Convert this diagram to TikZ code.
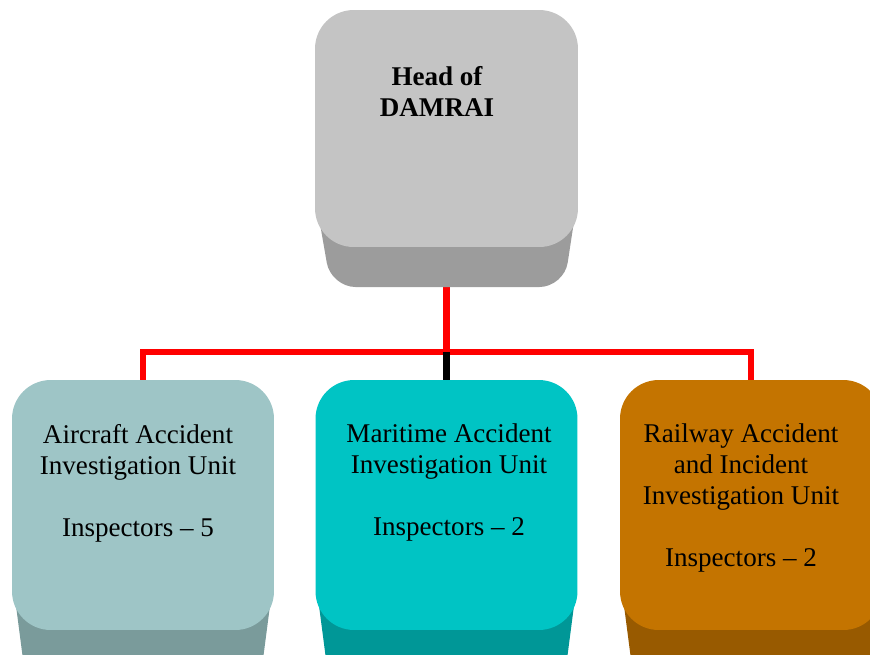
\documentclass[tikz,border=0pt]{standalone}
\usepackage{fontspec}
\setmainfont{Liberation Serif}
\usetikzlibrary{positioning,backgrounds}

\definecolor{headface}{HTML}{C4C4C4}
\definecolor{headbase}{HTML}{9C9C9C}
\definecolor{airface}{HTML}{9EC5C6}
\definecolor{airbase}{HTML}{7A9B9B}
\definecolor{seaface}{HTML}{00C4C4}
\definecolor{seabase}{HTML}{009797}
\definecolor{railface}{HTML}{C47400}
\definecolor{railbase}{HTML}{985A00}
\definecolor{linkred}{HTML}{FF0000}

\tikzset{
  face/.style={rounded corners=22pt, minimum width=5.24cm, minimum height=5cm, inner sep=0pt},
  unittext/.style={align=center, anchor=north, font=\fontsize{15.4}{17.6}\selectfont},
  link/.style={line width=3.5pt, draw=linkred},
}

\begin{document}
\begin{tikzpicture}[x=0.02cm, y=-0.02cm]
    \useasboundingbox (0,0) rectangle (870,654);
    \clip (0,0) rectangle (870,654);

    % bottom parts of the boxes
    \fill[headbase, rounded corners=14pt] (315,195) -- (331,287) -- (564,287) -- (578,195) -- cycle;
    \fill[airbase, rounded corners=14pt] (12,575) -- (27,690) -- (259,690) -- (274,575) -- cycle;
    \fill[seabase, rounded corners=14pt] (315,575) -- (330,690) -- (563,690) -- (578,575) -- cycle;
    \fill[railbase, rounded corners=14pt] (620,575) -- (635,690) -- (867,690) -- (882,575) -- cycle;

    % faces
    \node[face, fill=headface, minimum width=5.26cm, minimum height=4.74cm] (head) at (446.5,128.5) {};
    \node[face, fill=airface] (aircraft) at (143,505) {};
    \node[face, fill=seaface] (maritime) at (446.5,505) {};
    \node[face, fill=railface] (railway) at (751,505) {};

    \node[unittext, font=\fontsize{15.4}{17.6}\selectfont\bfseries] (head-text) at (437,60) {Head of\\DAMRAI};
    \node[unittext] (aircraft-text) at (138,418) {Aircraft Accident\\Investigation Unit\\[17.6pt]Inspectors -- 5};
    \node[unittext] (maritime-text) at (449,418) {Maritime Accident\\Investigation Unit\\[17.6pt]Inspectors -- 2};
    \node[unittext] (railway-text) at (741,418) {Railway Accident\\and Incident\\Investigation Unit\\[17.6pt]Inspectors -- 2};

    % connectors
    \coordinate (bus) at (446.5,352);
    \begin{pgfonlayer}{background}
        \draw[link] (head.south) -- (bus);
        \draw[link] (aircraft.north) -- (aircraft.north |- bus) -- (railway.north |- bus) -- (railway.north);
        \draw[line width=3.5pt] (bus) -- (maritime.north);
    \end{pgfonlayer}
\end{tikzpicture}
\end{document}
